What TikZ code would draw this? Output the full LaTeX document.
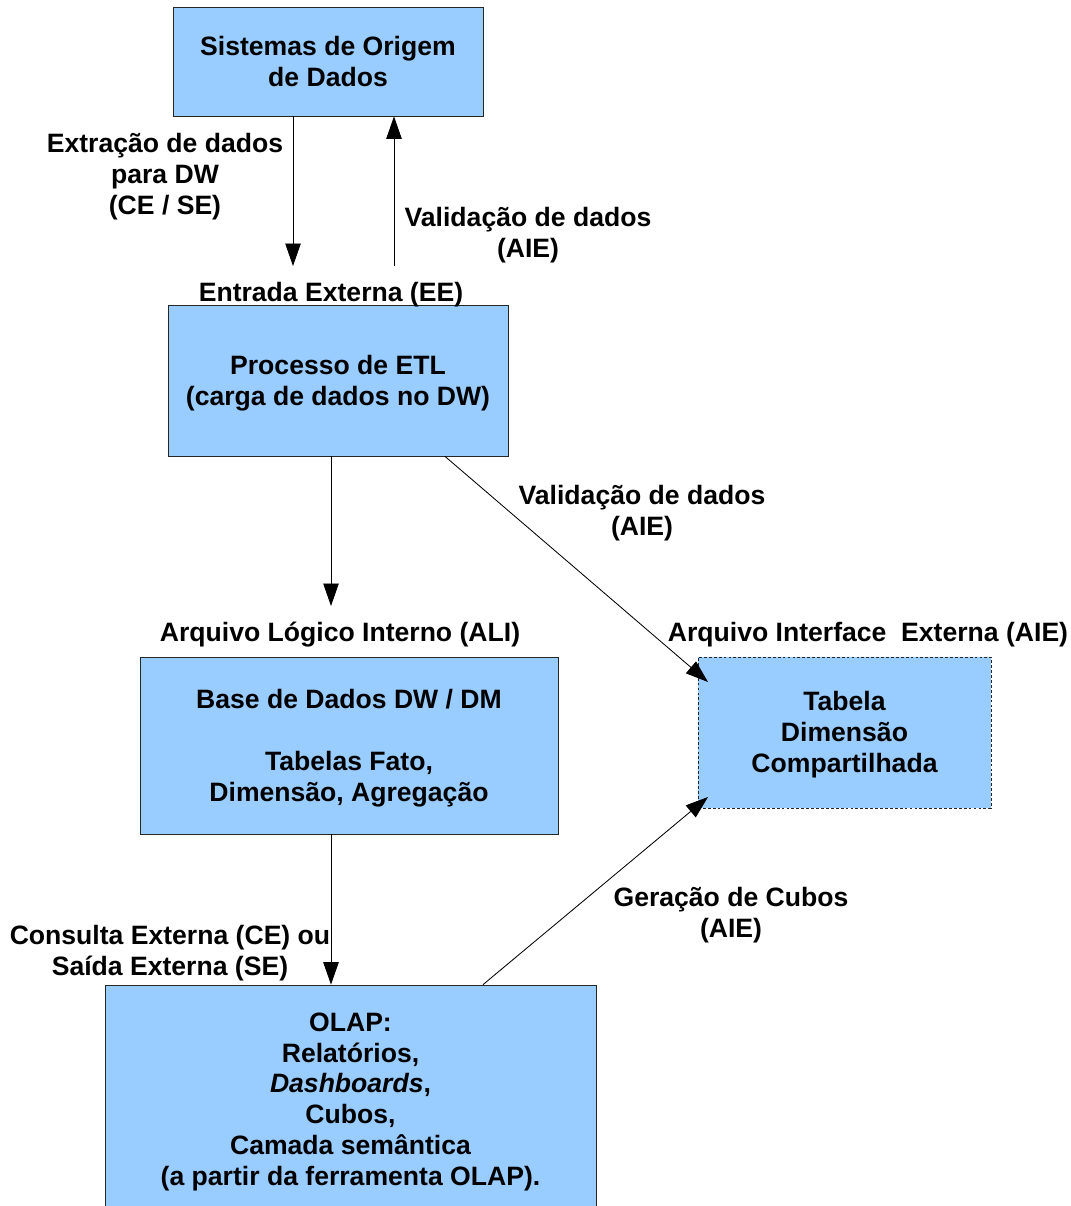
\documentclass[tikz,border=0pt]{standalone}
\usepackage{fontspec}
\setmainfont{Liberation Sans}
\usetikzlibrary{arrows.meta}
\definecolor{azulcaixa}{HTML}{99CCFF}
% texto das caixas, um pouco abaixo do centro
\newcommand{\textocaixa}[1]{\raisebox{-2.3pt}[\height][\depth]{\begin{tabular}{@{}c@{}}#1\end{tabular}}}
\tikzset{%
  caixa/.style   = {shape=rectangle, draw=black!85, line width=0.5pt,%
                    fill=azulcaixa, inner sep=0pt,%
                    font=\fontsize{18.9}{22}\selectfont\bfseries},%
  tracejada/.style = {caixa, dashed, dash pattern=on 2pt off 1.5pt},%
  rotulo/.style  = {align=center, inner sep=0pt,%
                    font=\fontsize{18.9}{22}\selectfont\bfseries},%
  seta/.style    = {line width=0.6pt,%
                    -{Triangle[length=16pt,width=11pt]}}%
}
\begin{document}
\begin{tikzpicture}[x=0.025cm,y=-0.025cm]
	\useasboundingbox (0,0) rectangle (1071,1206);
	\clip (0,0) rectangle (1071,1206);
	% caixas
	\node[caixa, minimum width=7.75cm, minimum height=2.725cm] (origem) at (328,61.5)
		{\textocaixa{Sistemas de Origem\\de Dados}};
	\node[caixa, minimum width=8.5cm, minimum height=3.775cm] (etl) at (338,380.5)
		{\textocaixa{Processo de ETL\\(carga de dados no DW)}};
	\node[caixa, minimum width=10.45cm, minimum height=4.425cm] (base) at (349,745.5)
		{\textocaixa{Base de Dados DW / DM\\\\Tabelas Fato,\\Dimensão, Agregação}};
	\node[tracejada, minimum width=7.325cm, minimum height=3.775cm] (tabela) at (844.5,732.5)
		{\textocaixa{Tabela\\Dimensão\\Compartilhada}};
	\node[caixa, minimum width=12.275cm, minimum height=5.7cm] (olap) at (350.5,1099)
		{\textocaixa{OLAP:\\Relatórios,\\\textit{Dashboards},\\Cubos,\\Camada semântica\\(a partir da ferramenta OLAP).}};
	% rotulos
	\node[rotulo] (extracao) at (165,177) {Extração de dados\\para DW\\(CE / SE)};
	\node[rotulo] (valida1) at (528,235) {Validação de dados\\(AIE)};
	\node[rotulo] (entrada) at (331,295) {Entrada Externa (EE)};
	\node[rotulo] (valida2) at (642,513.5) {Validação de dados\\(AIE)};
	\node[rotulo] (ali) at (340,635) {Arquivo Lógico Interno (ALI)};
	\node[rotulo] (aie) at (868,635) {Arquivo Interface\ \ Externa (AIE)};
	\node[rotulo] (cubos) at (731,915.5) {Geração de Cubos\\(AIE)};
	\node[rotulo] (consulta) at (170,953) {Consulta Externa (CE) ou\\Saída Externa (SE)};
	% pontos livres
	\coordinate (eeDesce) at (293,266);
	\coordinate (eeSobe) at (394,266);
	\coordinate (aliTopo) at (331,606);
	\coordinate (etlSai) at (445,0);
	\coordinate (olapSai) at (483,0);
	\coordinate (tabEnt1) at (708,682);
	\coordinate (tabEnt2) at (708,797);
	% setas
	\draw[seta] (origem.south -| eeDesce) -- (eeDesce);
	\draw[seta] (eeSobe) -- (eeSobe |- origem.south);
	\draw[seta] (etl.south -| aliTopo) -- (aliTopo);
	\draw[seta] (etl.south -| etlSai) -- (tabEnt1);
	\draw[seta] (base.south -| aliTopo) -- (aliTopo |- olap.north);
	\draw[seta] (olap.north -| olapSai) -- (tabEnt2);
\end{tikzpicture}
\end{document}
